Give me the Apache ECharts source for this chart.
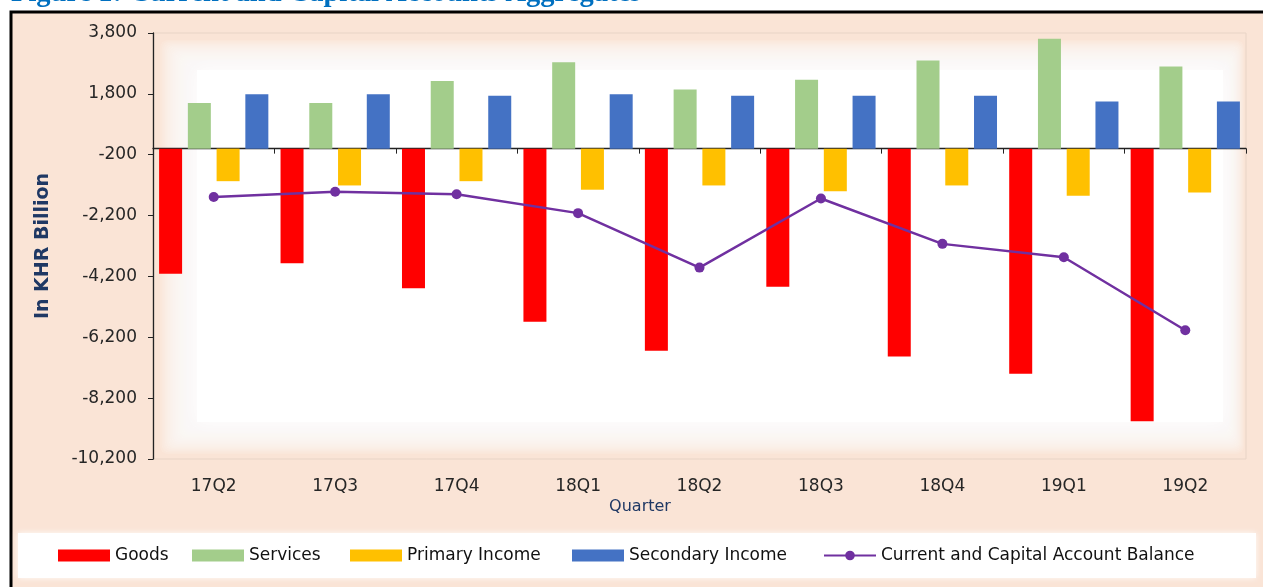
<!DOCTYPE html>
<html>
<head>
<meta charset="utf-8">
<script src="https://cdn.jsdelivr.net/npm/echarts@6/dist/echarts.min.js"></script>
<style>
html,body{margin:0;padding:0;background:#fff;}
#chart{width:1263px;height:587px;}
</style>
</head>
<body>
<div id="chart"></div>
<script>
var categories = ['17Q2','17Q3','17Q4','18Q1','18Q2','18Q3','18Q4','19Q1','19Q2'];
var goods = [-4110, -3770, -4590, -5690, -6640, -4540, -6830, -7400, -8960];
var services = [1500, 1500, 2220, 2840, 1940, 2260, 2900, 3610, 2700];
var primaryIncome = [-1070, -1210, -1070, -1350, -1210, -1400, -1210, -1550, -1440];
var secondaryIncome = [1790, 1790, 1740, 1790, 1740, 1740, 1740, 1550, 1550];
var balance = [-1590, -1420, -1500, -2120, -3910, -1640, -3130, -3570, -5970];
var yMin = -10200, yMax = 3800, yStep = 2000;

var font = 'DejaVu Sans';
var chart = echarts.init(document.getElementById('chart'), null, {renderer:'canvas'});

function legendAt(name, left, icon) {
  var l = {
    left: left, top: 547, data: [name], itemWidth: 52, itemHeight: 12, itemGap: 0,
    textStyle: {fontFamily: font, fontSize: 17, color: '#111', padding: [0,0,0,0]},
    padding: 0
  };
  if (icon) l.icon = icon;
  return l;
}

// soft white glow inside the plot area (decoration)
var glow = [];
var outer = {x:160, y:40, w:1084, h:414}, core = {x:197, y:70, w:1026, h:352};
var steps = 24;
for (var i = 0; i < steps; i++) {
  var t = i / (steps - 1);
  glow.push({type:'rect', z:-90, silent:true,
    shape:{x: outer.x + (core.x - outer.x) * t, y: outer.y + (core.y - outer.y) * t,
           width: outer.w + (core.w - outer.w) * t, height: outer.h + (core.h - outer.h) * t, r: 8},
    style:{fill:'rgba(255,255,255,0.11)'}});
}
glow.push({type:'rect', z:-89, silent:true, shape:{x:core.x, y:core.y, width:core.w, height:core.h}, style:{fill:'#ffffff', shadowBlur:16, shadowColor:'#ffffff'}});

var option = {
  backgroundColor: '#ffffff',
  animation: false,
  graphic: [
    {type:'rect', z:-100, silent:true, shape:{x:11, y:12, width:1270, height:600}, style:{fill:'#FAE4D6', stroke:'#000', lineWidth:3}},
    {type:'rect', z:-90, silent:true, shape:{x:18, y:533, width:1238, height:45}, style:{fill:'#ffffff', shadowBlur:6, shadowColor:'rgba(255,255,255,0.9)'}},
    {type:'text', z:10, x:11, y:-6, style:{text:'Figure 1: Current and Capital Accounts Aggregates', fill:'#0070C0', font:'bold 28.5px "Liberation Serif"', textVerticalAlign:'middle'}},
    {type:'text', z:10, x:640, y:507, style:{text:'Quarter', fill:'#1F3864', font:'16px "DejaVu Sans"', textAlign:'center', textVerticalAlign:'middle'}}
  ].concat(glow),
  legend: [
    legendAt('Goods', 58, 'rect'),
    legendAt('Services', 192, 'rect'),
    legendAt('Primary Income', 350, 'rect'),
    legendAt('Secondary Income', 572, 'rect'),
    legendAt('Current and Capital Account Balance', 823)
  ],
  grid: {left:153, right:17, top:33, bottom:128, show:true, borderColor:'#E8D4C6', borderWidth:1, backgroundColor:'transparent'},
  xAxis: [
    {
      type:'category', data: categories, position:'bottom',
      axisLine:{onZero:true, lineStyle:{color:'#222', width:1.3}},
      axisTick:{show:true, length:5, inside:false, lineStyle:{color:'#222'}},
      axisLabel:{show:false}
    },
    {
      type:'category', data: categories, position:'bottom',
      axisLine:{show:false, onZero:false}, axisTick:{show:false},
      axisLabel:{show:true, margin:19, fontFamily:font, fontSize:17, color:'#262626'}
    }
  ],
  yAxis: {
    type:'value', min:yMin, max:yMax, interval:yStep,
    name:'In KHR Billion', nameLocation:'middle', nameGap:100, nameRotate:90,
    nameTextStyle:{fontFamily:font, fontSize:19, fontWeight:'bold', color:'#1F3864'},
    axisLine:{show:true, lineStyle:{color:'#222', width:1.3}},
    axisTick:{show:true, length:5, lineStyle:{color:'#222'}},
    splitLine:{show:false},
    axisLabel:{margin:16, fontFamily:font, fontSize:17, color:'#262626',
      formatter:function(v){ return v.toLocaleString('en-US'); }}
  },
  series: [
    {name:'Goods', type:'bar', xAxisIndex:0, data:goods, barWidth:23, barGap:'25%', itemStyle:{color:'#FF0000'}},
    {name:'Services', type:'bar', xAxisIndex:0, data:services, barWidth:23, barGap:'25%', itemStyle:{color:'#A3CD8B'}},
    {name:'Primary Income', type:'bar', xAxisIndex:0, data:primaryIncome, barWidth:23, barGap:'25%', itemStyle:{color:'#FFC000'}},
    {name:'Secondary Income', type:'bar', xAxisIndex:0, data:secondaryIncome, barWidth:23, barGap:'25%', itemStyle:{color:'#4472C4'}},
    {name:'Current and Capital Account Balance', type:'line', xAxisIndex:0, data:balance, z:5,
      symbol:'circle', symbolSize:10, lineStyle:{color:'#7030A0', width:2.5}, itemStyle:{color:'#7030A0'}}
  ]
};
chart.setOption(option);
</script>
</body>
</html>
